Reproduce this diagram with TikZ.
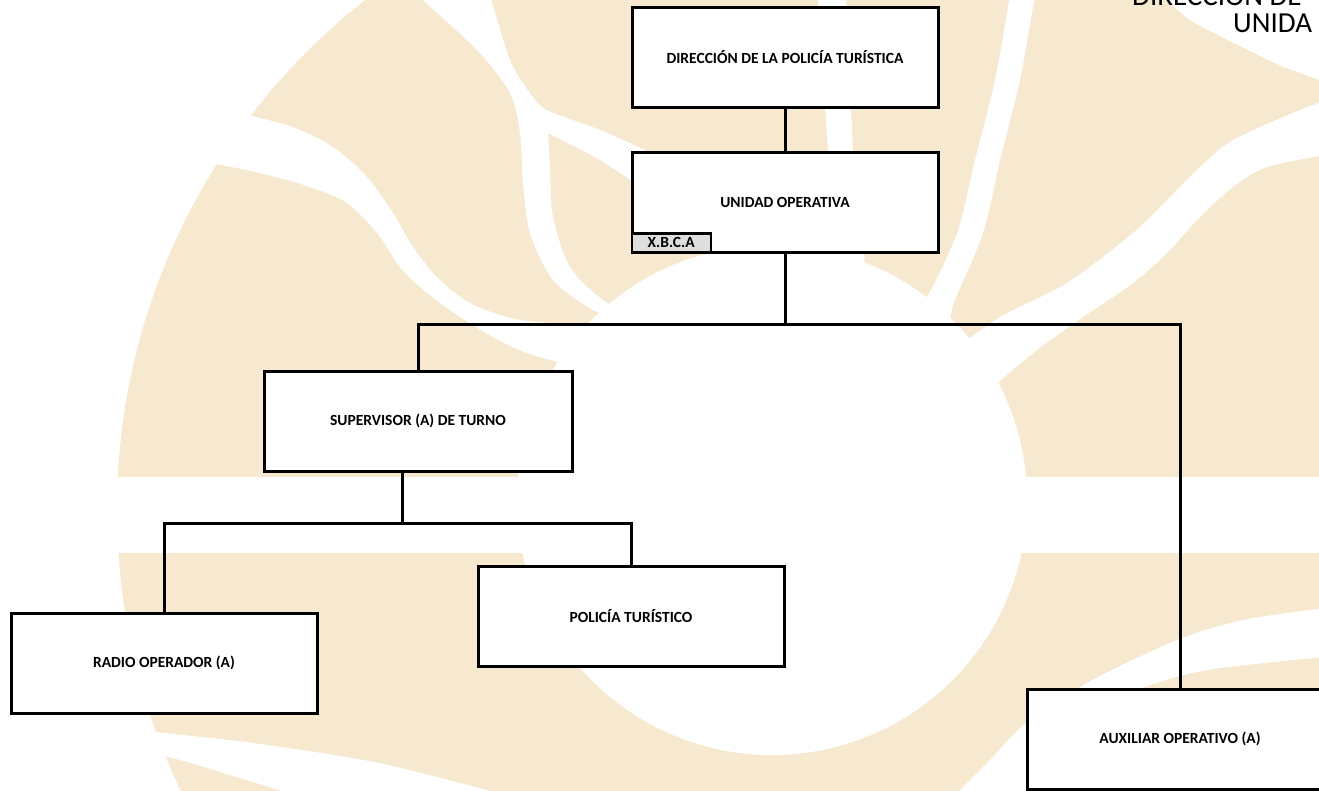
\documentclass[tikz,border=0pt]{standalone}
\usepackage{fontspec}
\setmainfont{Carlito}
\definecolor{beige}{RGB}{247,233,207}
\definecolor{xgray}{RGB}{222,222,222}
\begin{document}
\begin{tikzpicture}[x=1pt,y=-1pt,
  box/.style={draw=black, line width=3pt, fill=white, minimum width=306pt, minimum height=100pt, inner sep=0pt, font=\fontsize{15.5}{18}\selectfont\bfseries},
  conn/.style={draw=black, line width=3pt},
  tagbox/.style={draw=black, line width=2.4pt, fill=xgray, minimum width=79pt, minimum height=19pt, inner sep=0pt, font=\fontsize{15.5}{18}\selectfont\bfseries},
  bg/.style={fill=beige}, wb/.style={fill=white},
  head/.style={font=\fontsize{29}{33}\selectfont, anchor=base west, inner sep=0pt}]
\useasboundingbox (0,0) rectangle (1319,790);
\begin{scope}
\clip (0,0) rectangle (1319,790);
% ---------- watermark background ----------
\fill[white] (0,0) rectangle (1319,790);
\fill[bg] (765,510) circle (648pt);
\fill[bg] (1000,0) -- (1130,0) -- (1183,17) -- (1233,43) -- (1283,67) -- (1319,80) -- (1319,790) -- (1000,790) -- cycle;
\fill[wb] (772,500) circle (255pt);
\fill[wb] (0,477) rectangle (1319,553);
% left diagonal band
\fill[wb] plot[smooth] coordinates {(230,100)(243,113)(293,127)(333,147)(367,177)(393,213)(413,247)(437,277)(470,303)(520,320)(600,325)}
  -- plot[smooth] coordinates {(600,372)(577,367)(527,353)(493,337)(460,317)(427,293)(400,267)(377,233)(347,203)(310,187)(260,173)(210,163)(190,160)} -- cycle;
% upper left band
\fill[wb] plot[smooth] coordinates {(417,-5)(477,50)(510,93)(520,133)(523,183)(530,233)(553,280)(593,310)(640,330)}
  -- plot[smooth] coordinates {(640,320)(603,300)(570,267)(553,217)(550,167)(548,133)}
  -- plot[smooth] coordinates {(548,133)(600,160)(645,190)}
  -- (645,150)
  -- plot[smooth] coordinates {(645,150)(600,130)(547,110)(530,93)(510,60)(490,-5)} -- cycle;
% band behind the boxes
\fill[wb] (818,0) -- (846,0) -- (853,150) -- (865,265) -- (832,265) -- (828,150) -- cycle;
% upper right bands
\fill[wb] plot[smooth] coordinates {(1010,-5)(995,80)(975,160)(957,233)(925,300)(900,320)}
  -- plot[smooth] coordinates {(950,320)(955,300)(983,233)(1000,160)(1020,80)(1035,-5)} -- cycle;
\fill[wb] plot[smooth] coordinates {(1325,101)(1300,110)(1233,140)(1200,167)(1167,200)(1133,233)(1067,283)(1000,317)(950,353)}
  -- plot[smooth] coordinates {(990,390)(1033,353)(1083,317)(1133,283)(1167,253)(1200,217)(1233,187)(1267,167)(1325,155)} -- cycle;
% lower ring bands
\fill[wb] plot[smooth] coordinates {(1325,608)(1243,620)(1177,640)(1087,683)(1026,723)(990,760)(955,795)}
  -- plot[smooth] coordinates {(1026,795)(1045,760)(1081,720)(1137,690)(1207,670)(1325,657)} -- cycle;
\fill[wb] plot[smooth] coordinates {(140,730)(164,733)(253,743)(379,763)(505,795)}
  -- plot[smooth] coordinates {(295,795)(230,775)(168,757)(140,757)} -- cycle;
% ---------- header text (cut at the edge as in the original) ----------
\node[head] (h1) at (1132,5) {DIRECCIÓN DE};
\node[head] (h2) at (1233,32) {UNIDA};
% ---------- chart ----------
\node[box] (dir) at (785,57) {DIRECCIÓN DE LA POLICÍA TURÍSTICA};
\node[box] (uo) at (785,202) {UNIDAD OPERATIVA};
\node[tagbox, anchor=south west] (xb) at (uo.south west) {X.B.C.A};
\node[box, minimum width=308pt] (sup) at (418,421) {SUPERVISOR (A) DE TURNO};
\node[box] (pol) at (631,616) {POLICÍA TURÍSTICO};
\node[box] (rad) at (164,663) {RADIO OPERADOR (A)};
\node[box] (aux) at (1180,739) {AUXILIAR OPERATIVO (A)};
\coordinate (j1) at (785,324);
\coordinate (j2) at (402,523);
\draw[conn] (dir.south) -- (uo.north);
\draw[conn] (uo.south) -- (j1);
\draw[conn] (sup.north) |- (j1) -| (aux.north);
\draw[conn] (sup.south -| j2) -- (j2);
\draw[conn] (rad.north) |- (j2) -| (pol.north);
\end{scope}
\end{tikzpicture}
\end{document}
